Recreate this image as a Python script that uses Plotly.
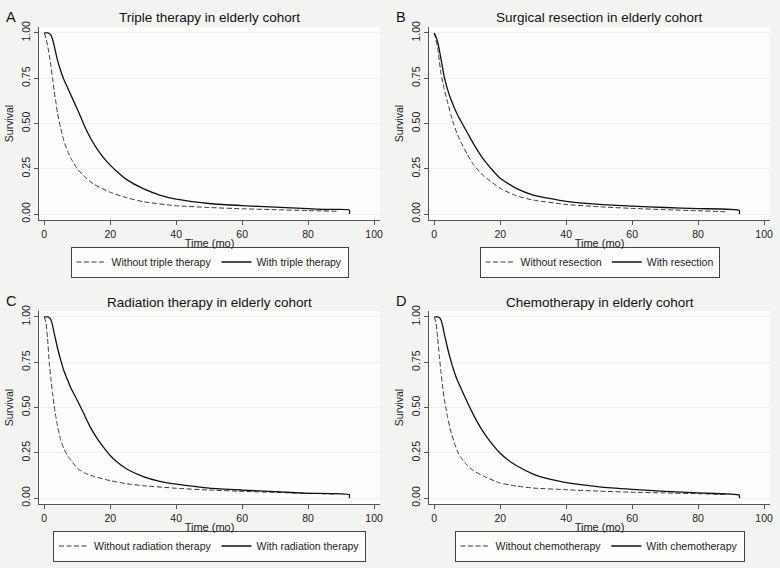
import plotly.graph_objects as go

# ---- data ----
# Panel A: Triple therapy
a_wo_t = [0, 0.5, 1, 1.5, 2, 2.5, 3, 3.5, 4, 5, 6, 7, 8, 10, 12, 15, 20, 25, 30, 40, 50, 60, 70, 80, 89]
a_wo_s = [1.0, 0.97, 0.93, 0.88, 0.82, 0.75, 0.68, 0.62, 0.56, 0.47, 0.40, 0.35, 0.31, 0.25, 0.21, 0.165, 0.12, 0.09, 0.068, 0.046, 0.036, 0.029, 0.024, 0.019, 0.015]
a_w_t = [0, 1, 1.5, 2, 2.5, 3, 3.5, 4, 5, 6, 7, 8, 10, 12, 14, 16, 18, 20, 22, 25, 30, 35, 40, 50, 60, 70, 80, 85, 92.5, 92.5]
a_w_s = [1.0, 1.0, 0.997, 0.99, 0.965, 0.93, 0.89, 0.85, 0.79, 0.74, 0.70, 0.66, 0.58, 0.495, 0.42, 0.36, 0.31, 0.27, 0.235, 0.19, 0.14, 0.105, 0.082, 0.058, 0.046, 0.038, 0.030, 0.025, 0.022, 0.0]

# Panel B: Surgical resection
b_wo_t = [0, 0.5, 1, 1.5, 2, 3, 4, 5, 6, 7, 8, 10, 12, 15, 20, 25, 30, 40, 50, 60, 70, 80, 89]
b_wo_s = [1.0, 0.96, 0.92, 0.85, 0.78, 0.69, 0.62, 0.55, 0.49, 0.44, 0.40, 0.33, 0.27, 0.21, 0.142, 0.10, 0.077, 0.053, 0.040, 0.031, 0.024, 0.018, 0.012]
b_w_t = [0, 0.5, 1, 1.5, 2, 3, 4, 5, 6, 7, 8, 10, 12, 15, 18, 20, 25, 30, 40, 50, 60, 70, 80, 92.5, 92.5]
b_w_s = [1.0, 0.98, 0.95, 0.91, 0.86, 0.76, 0.69, 0.635, 0.59, 0.55, 0.515, 0.45, 0.385, 0.30, 0.235, 0.197, 0.14, 0.105, 0.070, 0.053, 0.044, 0.036, 0.030, 0.020, 0.0]

# Panel C: Radiation therapy
c_wo_t = [0, 0.5, 1, 1.5, 2, 2.5, 3, 3.5, 4, 5, 6, 7, 8, 10, 12, 15, 20, 25, 30, 40, 50, 60, 70, 80, 88]
c_wo_s = [1.0, 0.97, 0.88, 0.75, 0.66, 0.58, 0.51, 0.45, 0.40, 0.32, 0.27, 0.235, 0.21, 0.165, 0.14, 0.12, 0.096, 0.079, 0.068, 0.054, 0.044, 0.037, 0.031, 0.026, 0.022]
c_w_t = [0, 1, 1.5, 2, 2.5, 3, 3.5, 4, 5, 6, 7, 8, 10, 12, 14, 16, 18, 20, 22, 25, 30, 35, 40, 50, 60, 70, 80, 92.5, 92.5]
c_w_s = [1.0, 1.0, 0.997, 0.985, 0.955, 0.91, 0.87, 0.83, 0.76, 0.70, 0.655, 0.61, 0.54, 0.465, 0.39, 0.33, 0.28, 0.235, 0.20, 0.16, 0.118, 0.092, 0.077, 0.055, 0.044, 0.035, 0.026, 0.018, 0.0]

# Panel D: Chemotherapy
d_wo_t = [0, 0.5, 1, 1.5, 2, 2.5, 3, 3.5, 4, 5, 6, 7, 8, 10, 12, 15, 20, 25, 30, 40, 50, 60, 70, 80, 88]
d_wo_s = [1.0, 0.97, 0.89, 0.79, 0.70, 0.62, 0.55, 0.50, 0.45, 0.37, 0.31, 0.26, 0.225, 0.18, 0.15, 0.12, 0.083, 0.066, 0.055, 0.046, 0.038, 0.032, 0.028, 0.024, 0.020]
d_w_t = [0, 1, 1.5, 2, 2.5, 3, 3.5, 4, 5, 6, 7, 8, 10, 12, 14, 16, 18, 20, 22, 25, 30, 35, 40, 50, 60, 70, 80, 92.5, 92.5]
d_w_s = [1.0, 1.0, 0.997, 0.985, 0.955, 0.91, 0.87, 0.83, 0.76, 0.70, 0.65, 0.61, 0.53, 0.455, 0.39, 0.335, 0.288, 0.247, 0.215, 0.178, 0.132, 0.104, 0.085, 0.062, 0.048, 0.037, 0.028, 0.016, 0.0]

titles = ["Triple therapy in elderly cohort", "Surgical resection in elderly cohort",
          "Radiation therapy in elderly cohort", "Chemotherapy in elderly cohort"]
letters = ["A", "B", "C", "D"]
wo_names = ["Without triple therapy", "Without resection",
            "Without radiation therapy", "Without chemotherapy"]
w_names = ["With triple therapy", "With resection",
           "With radiation therapy", "With chemotherapy"]
x_ticks = [0, 20, 40, 60, 80, 100]
y_ticks = [0, 0.25, 0.5, 0.75, 1.0]
y_ticklabels = ["0.00", "0.25", "0.50", "0.75", "1.00"]

panels = [(a_wo_t, a_wo_s, a_w_t, a_w_s), (b_wo_t, b_wo_s, b_w_t, b_w_s),
          (c_wo_t, c_wo_s, c_w_t, c_w_s), (d_wo_t, d_wo_s, d_w_t, d_w_s)]

# ---- layout geometry ----
W, H = 780, 568
xdoms = [[39 / W, 380 / W], [429 / W, 770 / W]]
ydoms = [[1 - 220 / H, 1 - 27 / H], [1 - 504 / H, 1 - 311 / H]]
FONT = "Liberation Sans, Arial, Helvetica, sans-serif"
BG = "#f3f4f2"

fig = go.Figure()
layout = dict(
    width=W, height=H, margin=dict(l=0, r=0, t=0, b=0, autoexpand=False),
    paper_bgcolor=BG, plot_bgcolor="#fdfdfc",
    font=dict(family=FONT, size=10, color="#222"),
    annotations=[], showlegend=True,
)

for i, (wo_t, wo_s, w_t, w_s) in enumerate(panels):
    col, row = i % 2, i // 2
    suf = "" if i == 0 else str(i + 1)
    xa, ya = "x" + suf, "y" + suf
    lg = "legend" + suf
    fig.add_trace(go.Scatter(x=wo_t, y=wo_s, mode="lines", name=wo_names[i],
                             line=dict(color="#3a3a3a", width=1, dash="5px,2.5px", shape="spline", smoothing=0.5),
                             xaxis=xa, yaxis=ya, legend=lg, hoverinfo="skip"))
    fig.add_trace(go.Scatter(x=w_t, y=w_s, mode="lines", name=w_names[i],
                             line=dict(color="#111", width=1.3, shape="spline", smoothing=0.5),
                             xaxis=xa, yaxis=ya, legend=lg, hoverinfo="skip"))
    layout["xaxis" + suf] = dict(
        domain=xdoms[col], anchor=ya, range=[-1.6, 101.8], tickvals=x_ticks, automargin=False,
        ticks="outside", ticklen=4, tickcolor="#555", showline=True, linecolor="#555",
        linewidth=1, showgrid=False, zeroline=False, tickfont=dict(size=10.5, color="#222"),
        title=dict(text="Time (mo)", font=dict(size=11, color="#222"), standoff=0),
    )
    layout["yaxis" + suf] = dict(
        domain=ydoms[row], anchor=xa, range=[-0.033, 1.033], tickvals=y_ticks, automargin=False,
        ticktext=y_ticklabels, tickangle=-90, ticks="outside", ticklen=4, tickcolor="#555",
        showline=True, linecolor="#555", linewidth=1, showgrid=True, gridcolor="#eef0ec",
        gridwidth=1, zeroline=False, tickfont=dict(size=10.5, color="#222"),
        title=dict(text="Survival", font=dict(size=10.5, color="#222"), standoff=4),
    )
    xc = (xdoms[col][0] + xdoms[col][1]) / 2
    layout[lg] = dict(
        orientation="h", x=xc, xanchor="center", y=ydoms[row][0] - 42 / H, yanchor="middle",
        bgcolor="#fdfdfc", bordercolor="#444", borderwidth=1,
        font=dict(size=10.5, color="#222"), itemclick=False, itemdoubleclick=False,
    )
    layout["annotations"].append(dict(
        text=titles[i], x=xc, xref="paper", y=ydoms[row][1] + 9 / H, yref="paper",
        xanchor="center", yanchor="middle", showarrow=False,
        font=dict(size=13.5, color="#111")))
    layout["annotations"].append(dict(
        text=letters[i], x=(4 + col * 390) / W, xref="paper", y=ydoms[row][1] + 10 / H,
        yref="paper", xanchor="left", yanchor="middle", showarrow=False,
        font=dict(size=14.5, color="#111")))

fig.update_layout(**layout)
fig.write_html("out.html", config={"displayModeBar": False},
               post_script="document.body.style.margin='0';document.body.style.background='" + BG + "';")
